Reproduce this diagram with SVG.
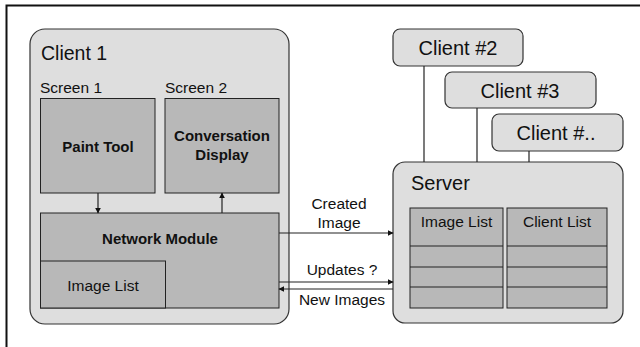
<svg xmlns="http://www.w3.org/2000/svg" width="640" height="347" viewBox="0 0 640 347">
  <style>
    text { font-family: "Liberation Sans", Arial, sans-serif; fill: #111; }
    .big { font-size: 20px; }
    .norm { font-size: 15.5px; }
    .bold { font-size: 15px; font-weight: bold; }
    .outer { fill: #dedede; stroke: #333; stroke-width: 1.2; }
    .inner { fill: #b8b8b8; stroke: #222; stroke-width: 1; }
    .conn { stroke: #222; stroke-width: 1.2; fill: none; }
    .row { stroke: #222; stroke-width: 1; }
  </style>
  <defs>
    <marker id="arrow" viewBox="0 0 10 10" refX="9" refY="5" markerWidth="5" markerHeight="5" orient="auto">
      <path d="M0,0 L10,5 L0,10 z" fill="#111"/>
    </marker>
  </defs>

  <rect width="640" height="347" fill="#fff"/>
  <!-- page frame (top and left rules) -->
  <path d="M6.5,347 V5.5 H640" fill="none" stroke="#111" stroke-width="2"/>

  <!-- Client 1 -->
  <g id="client1">
    <rect class="outer" x="30" y="29" width="259" height="295" rx="15"/>
    <text class="big" x="41" y="60" style="font-size:19.5px">Client 1</text>
  </g>
  <g id="screen1">
    <text class="norm" x="40" y="93">Screen 1</text>
    <rect class="inner" x="40.5" y="98.5" width="114.5" height="94.5"/>
    <text class="bold" x="98" y="152" text-anchor="middle">Paint Tool</text>
  </g>
  <g id="screen2">
    <text class="norm" x="165" y="93">Screen 2</text>
    <rect class="inner" x="165" y="98.5" width="114" height="94.5"/>
    <text class="bold" x="222" y="141" text-anchor="middle">Conversation</text>
    <text class="bold" x="222" y="160" text-anchor="middle">Display</text>
  </g>
  <g id="network-module">
    <rect class="inner" x="40.5" y="213" width="238.5" height="95"/>
    <text class="bold" x="160" y="244" text-anchor="middle">Network Module</text>
  </g>
  <g id="client-image-list">
    <rect class="inner" x="40.5" y="261" width="125" height="47"/>
    <text class="norm" x="103" y="291" text-anchor="middle">Image List</text>
  </g>

  <!-- remote clients -->
  <g id="client2">
    <rect class="outer" x="393" y="29" width="130" height="37" rx="7"/>
    <text class="big" x="458" y="55" text-anchor="middle">Client #2</text>
  </g>
  <g id="client3">
    <rect class="outer" x="445" y="72" width="151" height="36" rx="7"/>
    <text class="big" x="520" y="98" text-anchor="middle">Client #3</text>
  </g>
  <g id="client-n">
    <rect class="outer" x="492" y="114" width="131" height="37" rx="7"/>
    <text class="big" x="556" y="140" text-anchor="middle">Client #..</text>
  </g>

  <!-- Server -->
  <g id="server">
    <rect class="outer" x="393" y="162" width="230" height="161" rx="12"/>
    <text class="big" x="411" y="190">Server</text>
  </g>
  <g id="server-image-list">
    <rect class="inner" x="410" y="208" width="93" height="100"/>
    <line class="row" x1="410" y1="246" x2="503" y2="246"/>
    <line class="row" x1="410" y1="267" x2="503" y2="267"/>
    <line class="row" x1="410" y1="287" x2="503" y2="287"/>
    <text class="norm" x="456.5" y="227" text-anchor="middle">Image List</text>
  </g>
  <g id="server-client-list">
    <rect class="inner" x="507" y="208" width="100" height="100"/>
    <line class="row" x1="507" y1="246" x2="607" y2="246"/>
    <line class="row" x1="507" y1="267" x2="607" y2="267"/>
    <line class="row" x1="507" y1="287" x2="607" y2="287"/>
    <text class="norm" x="557" y="227" text-anchor="middle">Client List</text>
  </g>

  <!-- connectors: client links to the server, screen/network arrows, message arrows -->
  <g id="connectors">
    <line class="conn" x1="424" y1="66" x2="424" y2="162"/>
    <line class="conn" x1="477" y1="108" x2="477" y2="162"/>
    <line class="conn" x1="529" y1="151" x2="529" y2="162"/>
    <line class="conn" x1="98" y1="193" x2="98" y2="213" marker-end="url(#arrow)"/>
    <line class="conn" x1="222" y1="213" x2="222" y2="193" marker-end="url(#arrow)"/>
    <line class="conn" x1="279" y1="233" x2="393" y2="233" marker-end="url(#arrow)"/>
    <line class="conn" x1="279" y1="282" x2="393" y2="282" marker-end="url(#arrow)"/>
    <line class="conn" x1="393" y1="289" x2="279" y2="289" marker-end="url(#arrow)"/>
    <text class="norm" x="339" y="209" text-anchor="middle">Created</text>
    <text class="norm" x="339" y="228" text-anchor="middle">Image</text>
    <text class="norm" x="342" y="275" text-anchor="middle">Updates ?</text>
    <text class="norm" x="342" y="305" text-anchor="middle">New Images</text>
  </g>
</svg>
